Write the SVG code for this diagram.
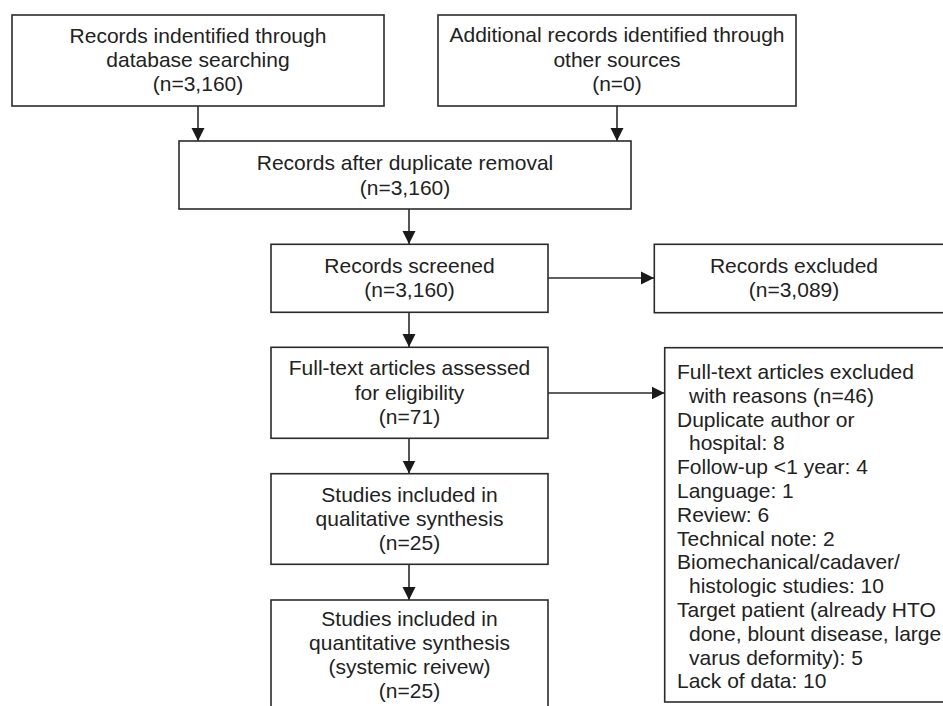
<svg xmlns="http://www.w3.org/2000/svg" width="943" height="706" viewBox="0 0 943 706">
<style>
.box{fill:#fff;stroke:#2b2b2b;stroke-width:1.6}
.t{font-family:"Liberation Sans",Arial,sans-serif;font-size:21px;fill:#222}
.c{text-anchor:middle}
.ln{stroke:#2b2b2b;stroke-width:1.6;fill:none}
</style>
<defs>
<marker id="ah" markerUnits="userSpaceOnUse" markerWidth="14" markerHeight="14" viewBox="0 0 14 14" refX="13" refY="7" orient="auto">
<path d="M0,0.5 L13,7 L0,13.5 Z" fill="#1a1a1a"/>
</marker>
</defs>
<rect width="943" height="706" fill="#fff"/>
<g id="connectors">
<line class="ln" x1="198" y1="106" x2="198" y2="141" marker-end="url(#ah)"/>
<line class="ln" x1="617" y1="106" x2="617" y2="141" marker-end="url(#ah)"/>
<line class="ln" x1="409" y1="209" x2="409" y2="244" marker-end="url(#ah)"/>
<line class="ln" x1="409" y1="312" x2="409" y2="347" marker-end="url(#ah)"/>
<line class="ln" x1="409" y1="438" x2="409" y2="473.5" marker-end="url(#ah)"/>
<line class="ln" x1="409" y1="564" x2="409" y2="600" marker-end="url(#ah)"/>
<line class="ln" x1="548" y1="278" x2="654" y2="278" marker-end="url(#ah)"/>
<line class="ln" x1="548" y1="393" x2="664.5" y2="393" marker-end="url(#ah)"/>
</g>
<g id="n1">
<rect class="box" x="12" y="15" width="372" height="91"/>
<text class="t c" x="198" y="43">Records indentified through</text>
<text class="t c" x="198" y="67">database searching</text>
<text class="t c" x="198" y="91">(n=3,160)</text>
</g>
<g id="n2">
<rect class="box" x="438" y="15" width="358" height="91"/>
<text class="t c" x="617" y="42">Additional records identified through</text>
<text class="t c" x="617" y="66.5">other sources</text>
<text class="t c" x="617" y="91">(n=0)</text>
</g>
<g id="n3">
<rect class="box" x="179" y="141" width="452" height="68"/>
<text class="t c" x="405" y="169.5">Records after duplicate removal</text>
<text class="t c" x="405" y="194.5">(n=3,160)</text>
</g>
<g id="n4">
<rect class="box" x="271" y="244.3" width="277" height="68"/>
<text class="t c" x="409.5" y="272.5">Records screened</text>
<text class="t c" x="409.5" y="297">(n=3,160)</text>
</g>
<g id="n5">
<rect class="box" x="654.3" y="244.3" width="300" height="68.4"/>
<text class="t c" x="794" y="272.5">Records excluded</text>
<text class="t c" x="794" y="297">(n=3,089)</text>
</g>
<g id="n6">
<rect class="box" x="271" y="347.3" width="277" height="91"/>
<text class="t c" x="409.5" y="375">Full-text articles assessed</text>
<text class="t c" x="409.5" y="399.5">for eligibility</text>
<text class="t c" x="409.5" y="424">(n=71)</text>
</g>
<g id="n7">
<rect class="box" x="664.7" y="347.7" width="300" height="354.3"/>
<text class="t" x="677" y="379">Full-text articles excluded</text>
<text class="t" x="689" y="402.8">with reasons (n=46)</text>
<text class="t" x="677" y="426.6">Duplicate author or</text>
<text class="t" x="689" y="450.4">hospital: 8</text>
<text class="t" x="677" y="474.2">Follow-up &lt;1 year: 4</text>
<text class="t" x="677" y="498">Language: 1</text>
<text class="t" x="677" y="521.8">Review: 6</text>
<text class="t" x="677" y="545.6">Technical note: 2</text>
<text class="t" x="677" y="569.4">Biomechanical/cadaver/</text>
<text class="t" x="689" y="593.2">histologic studies: 10</text>
<text class="t" x="677" y="617">Target patient (already HTO</text>
<text class="t" x="689" y="640.8">done, blount disease, large</text>
<text class="t" x="689" y="664.6">varus deformity): 5</text>
<text class="t" x="677" y="688.4">Lack of data: 10</text>
</g>
<g id="n8">
<rect class="box" x="271" y="473.7" width="277" height="90.6"/>
<text class="t c" x="409.5" y="501.5">Studies included in</text>
<text class="t c" x="409.5" y="525.5">qualitative synthesis</text>
<text class="t c" x="409.5" y="550">(n=25)</text>
</g>
<g id="n9">
<rect class="box" x="271" y="600" width="277" height="130"/>
<text class="t c" x="409.5" y="626">Studies included in</text>
<text class="t c" x="409.5" y="650">quantitative synthesis</text>
<text class="t c" x="409.5" y="674">(systemic reivew)</text>
<text class="t c" x="409.5" y="698">(n=25)</text>
</g>
</svg>
